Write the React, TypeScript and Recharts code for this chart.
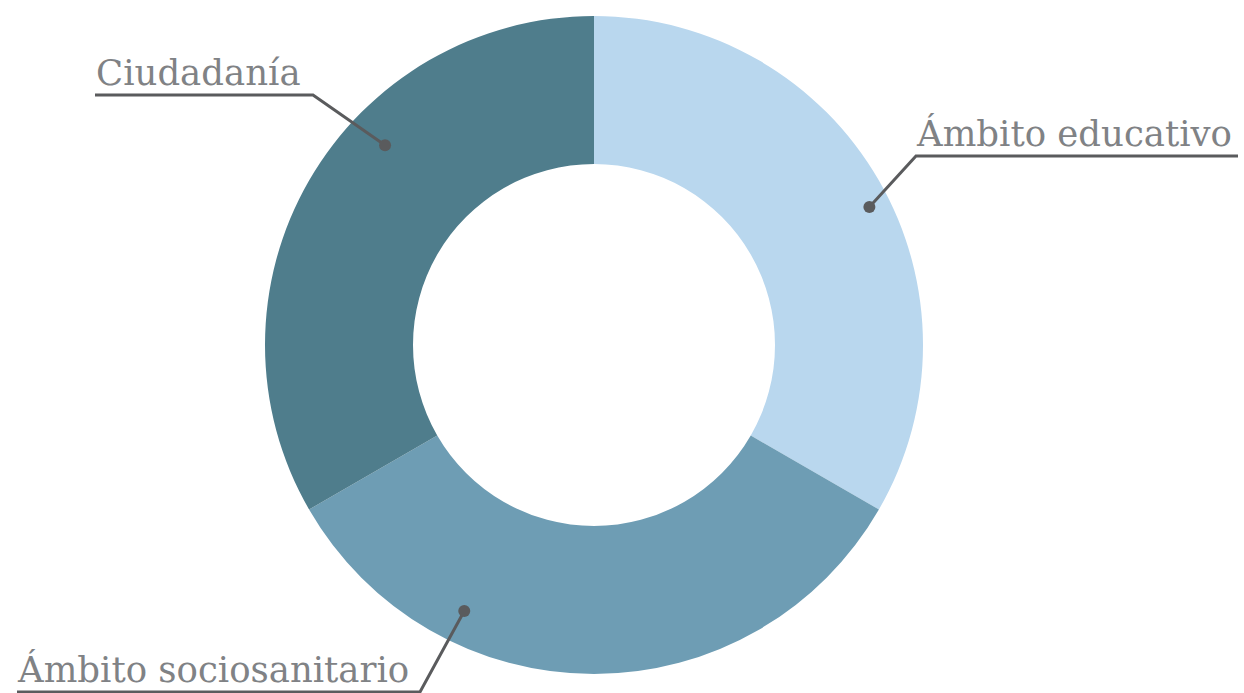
import React from 'react';
import { PieChart, Pie, Cell } from 'recharts';

const categories = ['Ámbito educativo', 'Ámbito sociosanitario', 'Ciudadanía'];
const values = [1, 1, 1];
const colors = ['#b9d7ee', '#6e9db4', '#4f7d8c'];

// leader line layout per slice: dot angle shift, dot inset, elbow and underline end (relative to centre)
const labelLayout = [
  { shift: -3.4, inset: 21, elbow: [322, -189], end: 644, textY: -199 },
  { shift: -26, inset: 33, elbow: [-174, 347], end: -577, textY: 337 },
  { shift: -13.7, inset: 40, elbow: [-281, -250], end: -499, textY: -260 },
];

const data = categories.map((name, i) => ({ name, value: values[i] }));

const RAD = Math.PI / 180;

const renderLabel = (props: any) => {
  const { cx, cy, midAngle, outerRadius, index, name } = props;
  const l = labelLayout[index];
  const a = (midAngle + l.shift) * RAD;
  const r = outerRadius - l.inset;
  const dx = cx + r * Math.cos(a);
  const dy = cy - r * Math.sin(a);
  const ex = cx + l.elbow[0];
  const ey = cy + l.elbow[1];
  const lx = cx + l.end;
  const textX = Math.min(ex, lx) + 1;
  return (
    <g>
      <polyline
        points={`${dx},${dy} ${ex},${ey} ${lx},${ey}`}
        fill="none"
        stroke="#5a5b5d"
        strokeWidth={3}
      />
      <circle cx={dx} cy={dy} r={6} fill="#5a5b5d" />
      <text
        x={textX}
        y={cy + l.textY}
        textAnchor="start"
        fill="#808285"
        fontSize={35.5}
        fontFamily="'DejaVu Serif', serif"
      >
        {name}
      </text>
    </g>
  );
};

export default function App() {
  return (
    <div style={{ position: 'absolute', left: 0, top: 0, background: '#fff' }}>
      <PieChart width={1244} height={693} margin={{ top: 0, right: 0, bottom: 0, left: 0 }}>
        <Pie
          data={data}
          dataKey="value"
          nameKey="name"
          cx={594}
          cy={345}
          innerRadius={181}
          outerRadius={329}
          startAngle={90}
          endAngle={-270}
          stroke="none"
          label={renderLabel}
          labelLine={false}
          isAnimationActive={false}
        >
          {data.map((d, i) => (
            <Cell key={d.name} fill={colors[i]} />
          ))}
        </Pie>
      </PieChart>
    </div>
  );
}
